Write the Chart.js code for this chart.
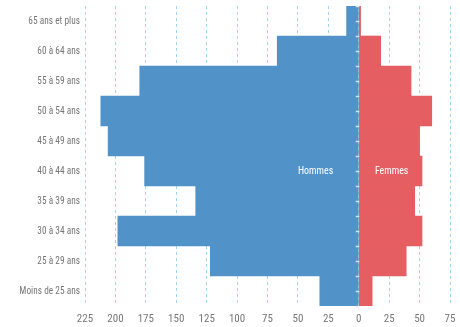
<!DOCTYPE html>
<html>
<head>
<meta charset="utf-8">
<script src="https://cdn.jsdelivr.net/npm/chart.js@4/dist/chart.umd.min.js"></script>
<style>
html,body{margin:0;padding:0;background:#fff;}
#wrap{width:460px;height:327px;position:relative;}
</style>
</head>
<body>
<div id="wrap"><canvas id="c" width="460" height="327"></canvas></div>
<script>
const categories = ["65 ans et plus","60 à 64 ans","55 à 59 ans","50 à 54 ans","45 à 49 ans","40 à 44 ans","35 à 39 ans","30 à 34 ans","25 à 29 ans","Moins de 25 ans"];
const hommes = [10, 67, 180, 212, 206, 176, 134, 198, 122, 32];
const femmes = [1.5, 18, 43, 60, 50, 52, 46, 52, 39, 11];
const seriesNames = ["Hommes", "Femmes"];
const labelRow = "40 à 44 ans";

const FONT = "'Roboto Condensed','Liberation Sans Narrow',sans-serif";
const SQUEEZE = 0.85;

const narrowText = {
  id: 'narrowText',
  beforeDraw(chart) {
    const ys = chart.scales.y;
    if (!ys._narrowPatched) {
      const orig = ys.drawLabels.bind(ys);
      ys.drawLabels = function(area) {
        const c = this.ctx;
        const ax = this.right - this.options.ticks.padding;
        c.save();
        c.translate(ax, 0);
        c.scale(SQUEEZE, 1);
        c.translate(-ax, 0);
        orig(area);
        c.restore();
      };
      ys._narrowPatched = true;
    }
  },
  afterDatasetsDraw(chart) {
    const {ctx, scales:{x, y}} = chart;
    const idx = categories.indexOf(labelRow);
    const yc = y.getPixelForValue(idx);
    ctx.save();
    ctx.strokeStyle = 'rgba(225,238,248,0.9)';
    ctx.lineWidth = 1.5;
    const x0 = x.getPixelForValue(0);
    for (let i = -0.5; i <= categories.length - 0.5 + 0.01; i += 0.5) {
      const yy = Math.round(y.getPixelForValue(i)) + 0.5;
      ctx.beginPath();
      ctx.moveTo(x0 - 3, yy);
      ctx.lineTo(x0 + 0.5, yy);
      ctx.stroke();
    }
    ctx.fillStyle = '#ffffff';
    ctx.font = "11px " + FONT;
    ctx.textBaseline = 'middle';
    ctx.textAlign = 'center';
    [[seriesNames[0], -35.5], [seriesNames[1], 27]].forEach(([t, v]) => {
      const px = x.getPixelForValue(v);
      ctx.save();
      ctx.translate(px, yc);
      ctx.scale(SQUEEZE + 0.05, 1);
      ctx.fillText(t, 0, 0);
      ctx.restore();
    });
    ctx.restore();
  }
};

new Chart(document.getElementById('c'), {
  type: 'bar',
  data: {
    labels: categories,
    datasets: [
      { label: seriesNames[0], data: hommes.map(v => -v), backgroundColor: '#5193c9', barPercentage: 1, categoryPercentage: 1, borderWidth: 0 },
      { label: seriesNames[1], data: femmes, backgroundColor: '#e55e62', barPercentage: 1, categoryPercentage: 1, borderWidth: 0 }
    ]
  },
  options: {
    indexAxis: 'y',
    responsive: false,
    animation: false,
    layout: { padding: { top: 6, right: 10, left: 0, bottom: 0 } },
    plugins: { legend: { display: false }, tooltip: { enabled: false } },
    scales: {
      x: {
        stacked: true,
        min: -225, max: 75,
        grid: {
          color: '#9fd6ea',
          lineWidth: 1,
          drawTicks: false,
        },
        border: { display: false, dash: [3, 3] },
        ticks: {
          stepSize: 25,
          padding: 7,
          color: '#777',
          font: { family: FONT, size: 11 },
          callback: v => Math.abs(v)
        },
        afterFit(s) { s.height = 21; s.paddingLeft = 0; s.paddingRight = 0; }
      },
      y: {
        stacked: true,
        grid: { display: false, drawTicks: false },
        border: { display: false },
        ticks: {
          padding: 5,
          color: '#777',
          font: { family: FONT, size: 11 }
        },
        afterFit(s) { s.width = 85; s.paddingTop = 0; s.paddingBottom = 0; }
      }
    }
  },
  plugins: [narrowText]
});
</script>
</body>
</html>
